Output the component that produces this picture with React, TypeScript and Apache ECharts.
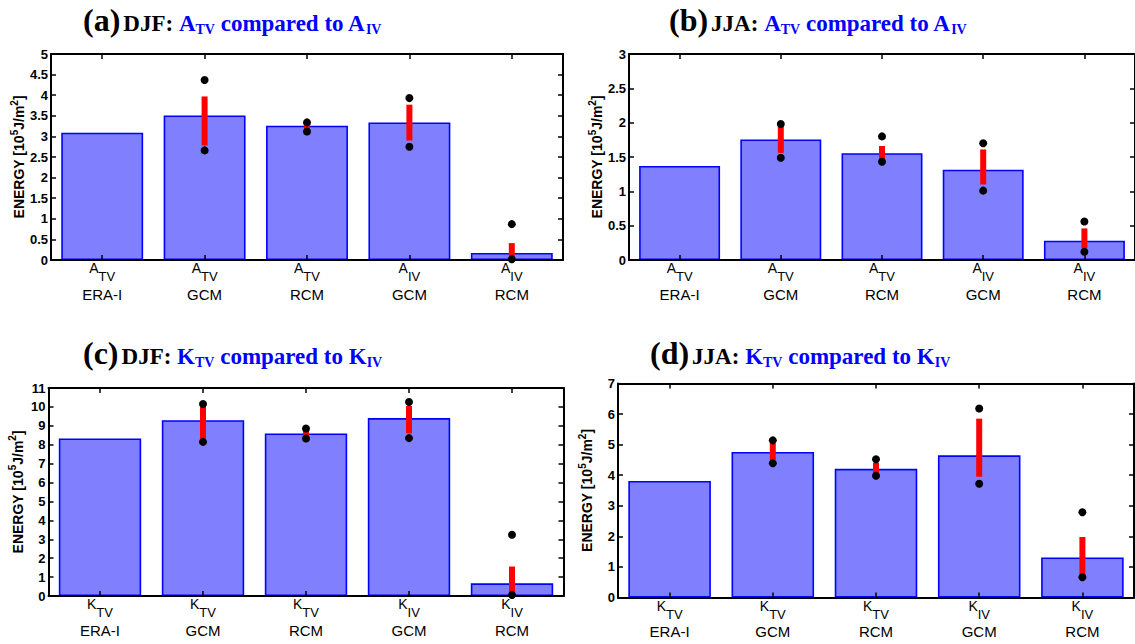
import React, { useEffect, useRef } from "react";
import * as echarts from "echarts";

// Category labels shared by the four panels
const SOURCES = ["ERA-I", "GCM", "RCM", "GCM", "RCM"];
const SUBSCRIPTS = ["TV", "TV", "TV", "IV", "IV"];

// (a) DJF available potential energy
const A_DJF_MEAN = [3.09, 3.51, 3.26, 3.34, 0.17];
const A_DJF_RANGE_LO = [null, 2.78, 3.16, 2.9, 0.0];
const A_DJF_RANGE_HI = [null, 3.97, 3.29, 3.77, 0.41];
const A_DJF_MIN = [null, 2.66, 3.12, 2.75, 0.02];
const A_DJF_MAX = [null, 4.37, 3.34, 3.93, 0.87];

// (b) JJA available potential energy
const A_JJA_MEAN = [1.37, 1.755, 1.555, 1.315, 0.28];
const A_JJA_RANGE_LO = [null, 1.56, 1.45, 1.1, 0.17];
const A_JJA_RANGE_HI = [null, 1.95, 1.66, 1.61, 0.46];
const A_JJA_MIN = [null, 1.49, 1.43, 1.01, 0.12];
const A_JJA_MAX = [null, 1.98, 1.8, 1.7, 0.56];

// (c) DJF kinetic energy
const K_DJF_MEAN = [8.33, 9.3, 8.6, 9.41, 0.67];
const K_DJF_RANGE_LO = [null, 8.3, 8.45, 8.6, 0.0];
const K_DJF_RANGE_HI = [null, 10.07, 8.75, 10.05, 1.56];
const K_DJF_MIN = [null, 8.15, 8.33, 8.35, 0.05];
const K_DJF_MAX = [null, 10.15, 8.86, 10.26, 3.24];

// (d) JJA kinetic energy
const K_JJA_MEAN = [3.81, 4.76, 4.21, 4.65, 1.31];
const K_JJA_RANGE_LO = [null, 4.5, 4.06, 3.95, 0.74];
const K_JJA_RANGE_HI = [null, 5.08, 4.41, 5.85, 1.98];
const K_JJA_MIN = [null, 4.39, 3.98, 3.72, 0.66];
const K_JJA_MAX = [null, 5.14, 4.52, 6.18, 2.79];

// Y-axis extents
const Y_MAX = [5, 3, 11, 7];
const Y_STEP = [0.5, 0.5, 1, 1];

const SANS = "'Liberation Sans', Arial, Helvetica, sans-serif";
const SERIF = "'Liberation Serif', 'Times New Roman', serif";

type Panel = {
  letter: string;
  season: string;
  sym: string;
  grid: { left: number; top: number; width: number; height: number };
  title: { x: number; y: number };
  mean: number[];
  lo: (number | null)[];
  hi: (number | null)[];
  min: (number | null)[];
  max: (number | null)[];
};

const PANELS: Panel[] = [
  {
    letter: "a", season: "DJF", sym: "A",
    grid: { left: 51, top: 54, width: 512, height: 206 },
    title: { x: 83, y: 10 },
    mean: A_DJF_MEAN, lo: A_DJF_RANGE_LO, hi: A_DJF_RANGE_HI, min: A_DJF_MIN, max: A_DJF_MAX,
  },
  {
    letter: "b", season: "JJA", sym: "A",
    grid: { left: 629, top: 54, width: 512, height: 206 },
    title: { x: 669, y: 10 },
    mean: A_JJA_MEAN, lo: A_JJA_RANGE_LO, hi: A_JJA_RANGE_HI, min: A_JJA_MIN, max: A_JJA_MAX,
  },
  {
    letter: "c", season: "DJF", sym: "K",
    grid: { left: 48.5, top: 388, width: 515, height: 208 },
    title: { x: 83, y: 343 },
    mean: K_DJF_MEAN, lo: K_DJF_RANGE_LO, hi: K_DJF_RANGE_HI, min: K_DJF_MIN, max: K_DJF_MAX,
  },
  {
    letter: "d", season: "JJA", sym: "K",
    grid: { left: 618, top: 383.5, width: 516, height: 214 },
    title: { x: 650, y: 343 },
    mean: K_JJA_MEAN, lo: K_JJA_RANGE_LO, hi: K_JJA_RANGE_HI, min: K_JJA_MIN, max: K_JJA_MAX,
  },
];

function buildOption() {
  const grid: any[] = [];
  const xAxis: any[] = [];
  const yAxis: any[] = [];
  const series: any[] = [];
  const graphic: any[] = [];

  const axisLine = { show: true, onZero: false, lineStyle: { color: "#000", width: 2 } };
  const tick = { show: true, inside: true, length: 5, lineStyle: { color: "#000", width: 1.5 } };

  PANELS.forEach((p, i) => {
    grid.push({ ...p.grid, containLabel: false });
    const cats = SOURCES.map((s, k) => `${p.sym}|${SUBSCRIPTS[k]}|${s}`);

    // bottom axis with two-line labels
    xAxis.push({
      type: "category", gridIndex: i, data: cats, position: "bottom", z: 10,
      axisLine,
      axisTick: { ...tick, alignWithLabel: true },
      axisLabel: {
        margin: 1,
        interval: 0,
        formatter: (v: string) => {
          const [s, sub, src] = v.split("|");
          return `{m|${s}}{s|${sub}}\n{g|${src}}`;
        },
        rich: {
          m: { fontFamily: SANS, fontSize: 14, color: "#000", lineHeight: 14, verticalAlign: "top" },
          s: { fontFamily: SANS, fontSize: 13, color: "#000", lineHeight: 22, verticalAlign: "bottom" },
          g: { fontFamily: SANS, fontSize: 15, color: "#000", lineHeight: 22 },
        },
      },
    });
    // top frame edge
    xAxis.push({
      type: "category", gridIndex: i, data: cats, position: "top", z: 10,
      axisLine,
      axisTick: { ...tick, alignWithLabel: true },
      axisLabel: { show: false },
    });

    yAxis.push({
      type: "value", gridIndex: i, min: 0, max: Y_MAX[i], interval: Y_STEP[i], position: "left", z: 10,
      axisLine,
      splitLine: { show: false },
      axisTick: tick,
      axisLabel: { margin: 3, fontFamily: SANS, fontWeight: "bold", fontSize: 13, color: "#000" },
      name: "{n|ENERGY [10}{u|5}{n|J/m}{u|2}{n|]}",
      nameLocation: "middle",
      nameGap: 24,
      nameTextStyle: {
        rich: {
          n: { fontFamily: SANS, fontWeight: "bold", fontSize: 14, color: "#000", lineHeight: 14, verticalAlign: "bottom" },
          u: { fontFamily: SANS, fontWeight: "bold", fontSize: 10, color: "#000", lineHeight: 17, verticalAlign: "top" },
        },
      },
    });
    // right frame edge
    yAxis.push({
      type: "value", gridIndex: i, min: 0, max: Y_MAX[i], interval: Y_STEP[i], position: "right", z: 10,
      axisLine,
      splitLine: { show: false },
      axisTick: tick,
      axisLabel: { show: false },
    });

    const xi = i * 2;
    const yi = i * 2;

    series.push({
      type: "bar",
      xAxisIndex: xi, yAxisIndex: yi,
      data: p.mean,
      barWidth: "80%",
      z: 2,
      itemStyle: { color: "#8080ff", borderColor: "#0000ff", borderWidth: 1.6 },
    });

    const rangeData: number[][] = [];
    const dotData: number[][] = [];
    p.mean.forEach((_, k) => {
      const lo = p.lo[k];
      const hi = p.hi[k];
      if (lo != null && hi != null) rangeData.push([k, lo, hi]);
      const mn = p.min[k];
      const mx = p.max[k];
      if (mn != null) dotData.push([k, mn]);
      if (mx != null) dotData.push([k, mx]);
    });

    // red range bars
    series.push({
      type: "custom",
      xAxisIndex: xi, yAxisIndex: yi,
      z: 3,
      encode: { x: 0, y: [1, 2] },
      data: rangeData,
      renderItem: (_params: any, api: any) => {
        const x = api.value(0);
        const a = api.coord([x, api.value(1)]);
        const b = api.coord([x, api.value(2)]);
        return {
          type: "line",
          shape: { x1: a[0], y1: a[1], x2: b[0], y2: b[1] },
          style: { stroke: "#ff0000", lineWidth: 6 },
        };
      },
    });

    // min / max markers
    series.push({
      type: "scatter",
      xAxisIndex: xi, yAxisIndex: yi,
      z: 4,
      symbol: "circle",
      symbolSize: 8,
      data: dotData,
      itemStyle: { color: "#000", opacity: 1 },
    });

    graphic.push({
      type: "text",
      x: p.title.x,
      y: p.title.y,
      style: {
        text: `{p|(${p.letter})}{k|${p.season}: }{b|${p.sym}}{s|TV}{b| compared to ${p.sym}}{s|IV}`,
        align: "left",
        verticalAlign: "top",
        rich: {
          p: { fontFamily: SERIF, fontWeight: "bold", fontSize: 32, fill: "#000", lineHeight: 20, verticalAlign: "bottom", padding: [0, 3, 0, 0] },
          k: { fontFamily: SERIF, fontWeight: "bold", fontSize: 23, fill: "#000", lineHeight: 20 },
          b: { fontFamily: SERIF, fontWeight: "bold", fontSize: 23, fill: "#0000ff", lineHeight: 20 },
          s: { fontFamily: SERIF, fontWeight: "bold", fontSize: 14, fill: "#0000ff", lineHeight: 26, verticalAlign: "bottom" },
        },
      },
    });
  });

  return {
    animation: false,
    backgroundColor: "#fff",
    grid,
    xAxis,
    yAxis,
    series,
    graphic,
  };
}

export default function App() {
  const ref = useRef<HTMLDivElement>(null);
  useEffect(() => {
    if (!ref.current) return;
    const chart = echarts.init(ref.current, undefined, { renderer: "svg" });
    chart.setOption(buildOption() as any);
    return () => chart.dispose();
  }, []);
  return (
    <div
      ref={ref}
      style={{ position: "fixed", left: 0, top: 0, width: 1135, height: 644, background: "#fff" }}
    />
  );
}
